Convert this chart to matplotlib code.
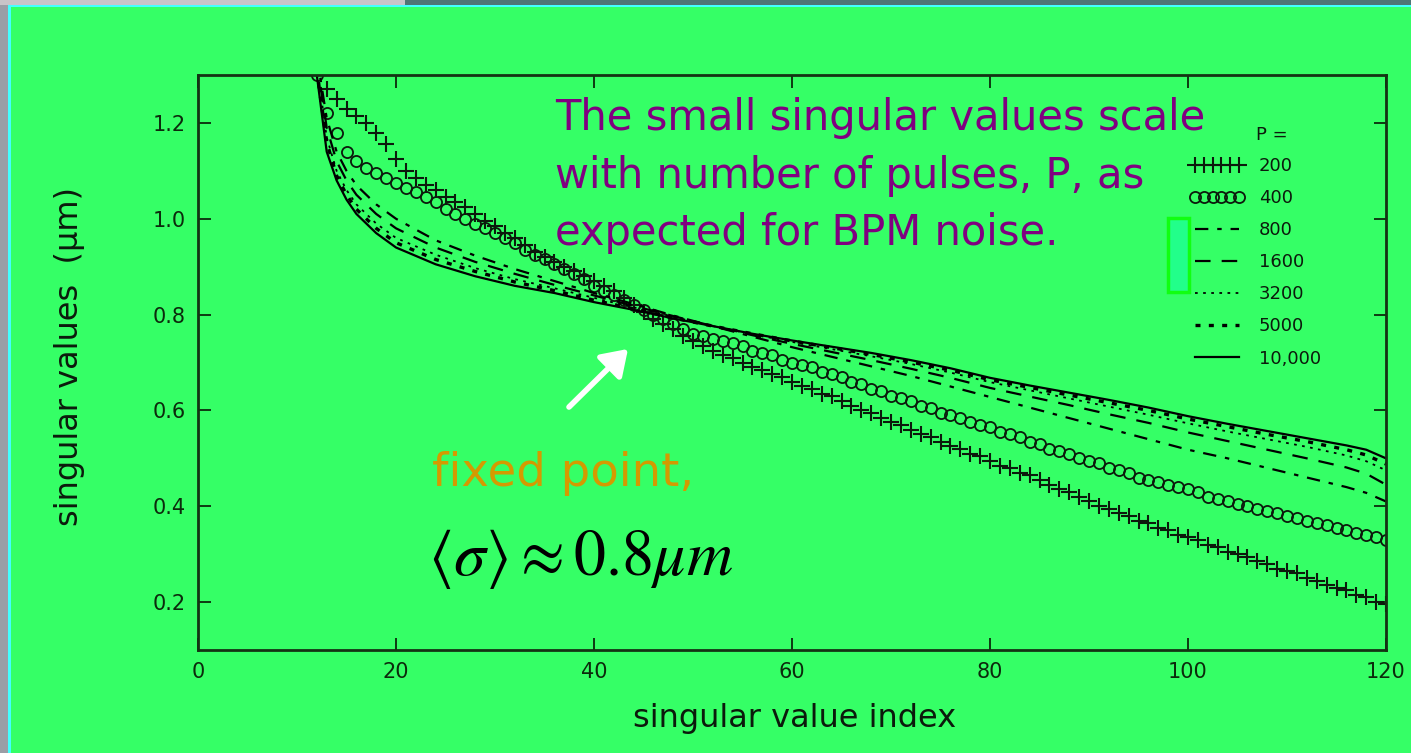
import matplotlib
matplotlib.use("Agg")
import matplotlib.pyplot as plt
from matplotlib.patches import Rectangle, FancyArrowPatch

plt.rcParams['mathtext.fontset'] = 'stix'

# singular value index for the point series (every index)
idx = list(range(12, 121))

sv_200 = [1.33, 1.27, 1.25, 1.23, 1.215, 1.20, 1.18, 1.155, 1.125, 1.10,
          1.085, 1.07, 1.06, 1.045, 1.035, 1.025, 1.01, 0.995, 0.985, 0.97,
          0.96, 0.945, 0.93, 0.92, 0.91, 0.90, 0.89, 0.88, 0.87, 0.86,
          0.85, 0.835, 0.82, 0.805, 0.79, 0.78, 0.77, 0.755, 0.745, 0.735,
          0.725, 0.715, 0.71, 0.70, 0.69, 0.685, 0.675, 0.67, 0.66, 0.65,
          0.645, 0.635, 0.63, 0.62, 0.61, 0.60, 0.595, 0.585, 0.575, 0.57,
          0.56, 0.55, 0.545, 0.535, 0.525, 0.52, 0.51, 0.505, 0.495, 0.485,
          0.48, 0.47, 0.465, 0.455, 0.445, 0.435, 0.43, 0.42, 0.41, 0.40,
          0.395, 0.385, 0.38, 0.37, 0.365, 0.355, 0.35, 0.34, 0.335, 0.33,
          0.32, 0.315, 0.305, 0.30, 0.295, 0.285, 0.28, 0.27, 0.265, 0.26,
          0.25, 0.245, 0.235, 0.23, 0.225, 0.215, 0.21, 0.20, 0.195]

sv_400 = [1.30, 1.22, 1.18, 1.14, 1.12, 1.105, 1.095, 1.085, 1.075, 1.065,
          1.055, 1.045, 1.035, 1.02, 1.01, 1.0, 0.99, 0.98, 0.97, 0.96,
          0.95, 0.935, 0.925, 0.915, 0.905, 0.895, 0.885, 0.875, 0.86, 0.85,
          0.84, 0.83, 0.82, 0.81, 0.80, 0.79, 0.78, 0.77, 0.76, 0.755,
          0.75, 0.745, 0.74, 0.735, 0.725, 0.72, 0.715, 0.705, 0.70, 0.695,
          0.69, 0.68, 0.675, 0.67, 0.66, 0.655, 0.645, 0.64, 0.63, 0.625,
          0.62, 0.61, 0.605, 0.595, 0.59, 0.585, 0.575, 0.57, 0.565, 0.555,
          0.55, 0.545, 0.535, 0.53, 0.52, 0.515, 0.51, 0.50, 0.495, 0.49,
          0.48, 0.475, 0.47, 0.46, 0.455, 0.45, 0.445, 0.44, 0.435, 0.43,
          0.42, 0.415, 0.41, 0.405, 0.40, 0.395, 0.39, 0.385, 0.38, 0.375,
          0.37, 0.365, 0.36, 0.355, 0.35, 0.345, 0.34, 0.335, 0.33]

# line series sampled more coarsely
lidx = [12, 13, 14, 15, 16, 18, 20, 24, 28, 32, 36, 40, 44, 48, 52, 56, 60,
        64, 68, 72, 76, 80, 84, 88, 92, 96, 100, 104, 108, 112, 116, 118, 120]

sv_800 = [1.34, 1.21, 1.14, 1.10, 1.07, 1.03, 1.0, 0.955, 0.923, 0.895,
          0.87, 0.845, 0.822, 0.798, 0.776, 0.754, 0.732, 0.712, 0.692,
          0.672, 0.65, 0.628, 0.606, 0.584, 0.562, 0.54, 0.518, 0.50, 0.48,
          0.46, 0.44, 0.428, 0.41]
sv_1600 = [1.33, 1.19, 1.12, 1.08, 1.05, 1.01, 0.98, 0.94, 0.91, 0.885,
           0.862, 0.84, 0.818, 0.797, 0.776, 0.757, 0.739, 0.722, 0.705,
           0.687, 0.668, 0.647, 0.629, 0.611, 0.592, 0.574, 0.554, 0.536,
           0.518, 0.50, 0.481, 0.468, 0.445]
sv_3200 = [1.32, 1.17, 1.10, 1.06, 1.03, 0.99, 0.96, 0.925, 0.897, 0.874,
           0.855, 0.835, 0.815, 0.795, 0.776, 0.759, 0.743, 0.728, 0.713,
           0.697, 0.679, 0.659, 0.642, 0.625, 0.608, 0.591, 0.573, 0.556,
           0.54, 0.524, 0.506, 0.494, 0.475]
sv_5000 = [1.31, 1.16, 1.09, 1.05, 1.02, 0.98, 0.95, 0.915, 0.89, 0.868,
           0.85, 0.83, 0.812, 0.793, 0.776, 0.76, 0.745, 0.731, 0.717,
           0.701, 0.684, 0.664, 0.648, 0.632, 0.616, 0.60, 0.582, 0.566,
           0.55, 0.535, 0.518, 0.507, 0.488]
sv_10000 = [1.30, 1.14, 1.08, 1.04, 1.01, 0.97, 0.94, 0.905, 0.88, 0.86,
            0.845, 0.826, 0.81, 0.792, 0.776, 0.76, 0.746, 0.733, 0.72,
            0.705, 0.688, 0.668, 0.652, 0.637, 0.622, 0.606, 0.588, 0.572,
            0.557, 0.542, 0.527, 0.518, 0.50]

labels = ['200', '400', '800', '1600', '3200', '5000', '10,000']
xticks = [0, 20, 40, 60, 80, 100, 120]
yticks = [0.2, 0.4, 0.6, 0.8, 1.0, 1.2]
note = ['The small singular values scale',
        'with number of pulses, P, as',
        'expected for BPM noise.']

bg = '#35ff66'
ink = '#0c1a0c'

fig = plt.figure(figsize=(14.11, 7.53), dpi=100, facecolor=bg)
W, H = 1411, 753

# slide frame: grey/slate strips with a cyan edge
fig.patches.append(Rectangle((0, 0), 8 / W, 1, transform=fig.transFigure,
                             facecolor='#9a9ea6', edgecolor='none', zorder=0))
fig.patches.append(Rectangle((8 / W, 0), 3 / W, 1 - 5 / H, transform=fig.transFigure,
                             facecolor='#44ffff', edgecolor='none', zorder=0))
fig.patches.append(Rectangle((0, 1 - 5 / H), 405 / W, 5 / H, transform=fig.transFigure,
                             facecolor='#c8c4c8', edgecolor='none', zorder=0))
fig.patches.append(Rectangle((405 / W, 1 - 5 / H), 1 - 405 / W, 5 / H,
                             transform=fig.transFigure,
                             facecolor='#4f7575', edgecolor='none', zorder=0))
fig.patches.append(Rectangle((8 / W, 1 - 7 / H), 1 - 8 / W, 2 / H,
                             transform=fig.transFigure,
                             facecolor='#44ffff', edgecolor='none', zorder=0))

ax = fig.add_axes([198 / W, 1 - 650 / H, (1386 - 198) / W, 575 / H])
ax.set_facecolor(bg)

ax.plot(idx, sv_200, linestyle='none', marker='+', markersize=11,
        markeredgewidth=1.5, color=ink, label=labels[0])
ax.plot(idx, sv_400, linestyle='none', marker='o', markersize=8,
        fillstyle='none', markeredgewidth=1.3, color=ink, label=labels[1])
ax.plot(lidx, sv_800, color='black', lw=1.6, dashes=(6, 4, 2, 4), label=labels[2])
ax.plot(lidx, sv_1600, color='black', lw=1.6, dashes=(7, 5), label=labels[3])
ax.plot(lidx, sv_3200, color='black', lw=1.3, dashes=(1.5, 3), label=labels[4])
ax.plot(lidx, sv_5000, color='black', lw=2.4, dashes=(1.5, 2.5), label=labels[5])
ax.plot(lidx, sv_10000, color='black', lw=1.6, label=labels[6])

ax.set_xlim(0, 120)
ax.set_ylim(0.1, 1.3)
ax.set_xticks(xticks)
ax.set_yticks(yticks)
ax.set_xticklabels([str(t) for t in xticks])
ax.set_yticklabels(['%.1f' % t for t in yticks])
ax.tick_params(direction='in', length=9, width=1.3, colors='#0c2a0c',
               top=True, right=True, labelsize=15, pad=9)
for lab in ax.get_xticklabels() + ax.get_yticklabels():
    lab.set_family('DejaVu Sans')
for sp in ax.spines.values():
    sp.set_color('#143214')
    sp.set_linewidth(2)

fig.text(795 / W, 1 - 718 / H, 'singular value index', family='DejaVu Sans',
         fontsize=23, color=ink, ha='center', va='center')
fig.text(70 / W, 1 - 356 / H, 'singular values  (\u00b5m)', family='DejaVu Sans',
         fontsize=23, color=ink, ha='center', va='center', rotation=90)

leg = ax.legend(loc='upper left', bbox_to_anchor=(1190 / W, 1 - 157 / H),
                bbox_transform=fig.transFigure, frameon=False, numpoints=6,
                borderpad=0, borderaxespad=0, handlelength=3.0,
                handletextpad=0.8, labelspacing=0.78,
                prop={'family': 'DejaVu Sans', 'size': 13})
for t in leg.get_texts():
    t.set_color(ink)
fig.text(1256 / W, 1 - 135 / H, 'P =', family='DejaVu Sans', fontsize=13,
         color=ink, va='center')

# stray highlight box next to the legend
fig.patches.append(Rectangle((1168 / W, 1 - 292 / H), 21 / W, 74 / H,
                             transform=fig.transFigure, facecolor='#22ff8a',
                             edgecolor='#11ff11', linewidth=2.5, zorder=5))

for line, base in zip(note, [130, 188, 245]):
    fig.text(555 / W, 1 - base / H, line, family='DejaVu Sans', fontsize=30,
             color='#800080', va='baseline', ha='left')

fig.text(432 / W, 1 - 486 / H, 'fixed point,', family='DejaVu Sans', fontsize=33.5,
         color='#d49a00', va='baseline', ha='left')
fig.text(428 / W, 1 - 575 / H, r'$\langle\sigma\rangle\approx 0.8\mu m$',
         fontsize=46, color='black', va='baseline', ha='left')

fig.patches.append(FancyArrowPatch((567 / W, 1 - 409 / H), (630 / W, 1 - 347 / H),
                                   transform=fig.transFigure, color='white',
                                   arrowstyle='-|>,head_length=6,head_width=4',
                                   linewidth=4, mutation_scale=2.5, zorder=6))

fig.savefig('out.png', dpi=100, facecolor=bg)
